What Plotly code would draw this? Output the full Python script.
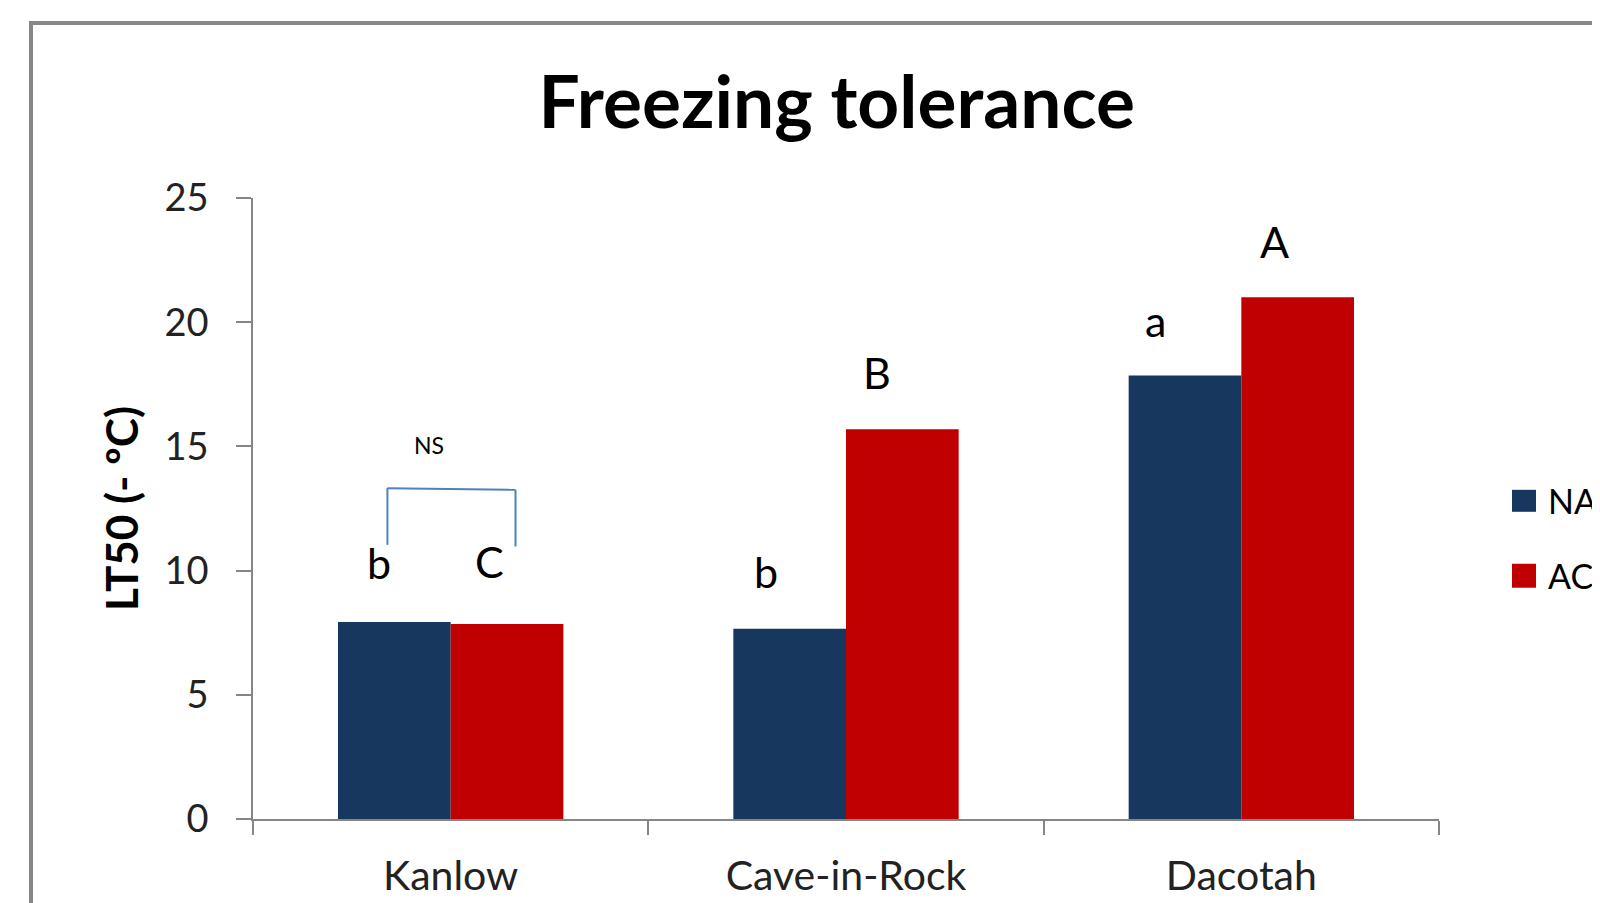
import plotly.graph_objects as go

# ---- data ----
categories = ["Kanlow", "Cave-in-Rock", "Dacotah"]
series_names = ["NA", "AC"]
na_values = [7.93, 7.66, 17.85]
ac_values = [7.85, 15.69, 21.0]
y_ticks = [0, 5, 10, 15, 20, 25]

# significance letters: (text, category index offset, y)
letter_texts = ["b", "C", "b", "B", "a", "A"]
letter_x = [-0.181, 0.098, 0.798, 1.078, 1.784, 2.085]
letter_y = [10.33, 10.37, 9.97, 17.98, 20.07, 23.25]

# NS bracket over Kanlow
bracket_x = [-0.160, -0.160, 0.164, 0.164]
bracket_y = [11.04, 13.32, 13.25, 10.97]
ns_x, ns_y = -0.054, 15.04

colors = {"NA": "#17375E", "AC": "#C00000"}
font_family = "Lato, 'Open Sans', sans-serif"

# page offset (browser body margin) compensation
OFF = 8
W, H = 1600, 903
# plot-area pixel geometry in screen coordinates
L, R = 253, 1439
T, B = 198, 819.4


def px(x):
    return (x - L) / (R - L)


def py(y):
    return (B - y) / (B - T)


fig = go.Figure()
fig.add_trace(go.Bar(x=categories, y=na_values, name="NA",
                     marker=dict(color=colors["NA"], line=dict(width=0)),
                     showlegend=False))
fig.add_trace(go.Bar(x=categories, y=ac_values, name="AC",
                     marker=dict(color=colors["AC"], line=dict(width=0)),
                     showlegend=False))

annotations = []
for t, x, y in zip(letter_texts, letter_x, letter_y):
    annotations.append(dict(text=t, x=x, y=y, xref="x", yref="y",
                            showarrow=False, xanchor="center", yanchor="middle",
                            font=dict(family=font_family, size=43, color="#000000")))
annotations.append(dict(text="NS", x=ns_x, y=ns_y, xref="x", yref="y",
                        showarrow=False, xanchor="center", yanchor="middle",
                        font=dict(family=font_family, size=23, color="#000000")))

shapes = []
for i in range(len(bracket_x) - 1):
    shapes.append(dict(type="line", xref="x", yref="y",
                       x0=bracket_x[i], y0=bracket_y[i],
                       x1=bracket_x[i + 1], y1=bracket_y[i + 1],
                       line=dict(color="#4F81BD", width=2)))

# manual legend (large squares like the original)
leg_rows = [(490, 512), (564, 588)]
for name, (y0, y1) in zip(series_names, leg_rows):
    shapes.append(dict(type="rect", xref="paper", yref="paper",
                       x0=px(1512), x1=px(1536), y0=py(y1), y1=py(y0),
                       fillcolor=colors[name], line=dict(width=0)))
    annotations.append(dict(text=name, xref="paper", yref="paper",
                            x=px(1546), y=py((y0 + y1) / 2),
                            xanchor="left", yanchor="middle", showarrow=False,
                            font=dict(family=font_family, size=34, color="#000000")))

# outer chart border
shapes.append(dict(type="rect", xref="paper", yref="paper",
                   x0=px(31), y0=py(960), x1=px(1700), y1=py(23),
                   line=dict(color="#888888", width=4), fillcolor="rgba(0,0,0,0)",
                   layer="below"))

fig.update_layout(
    width=W, height=H,
    margin=dict(l=L - OFF, r=W - (R - OFF), t=T - OFF, b=H - (B - OFF), pad=0),
    paper_bgcolor="white", plot_bgcolor="white",
    barmode="group", bargap=0.43, bargroupgap=0,
    title=dict(text="<b>Freezing tolerance</b>", xref="container", yref="container",
               x=(836.7 - OFF) / W, y=1 - (102 - OFF) / H,
               xanchor="center", yanchor="middle",
               font=dict(family=font_family, size=73, color="#000000")),
    font=dict(family=font_family, color="#222222"),
    annotations=annotations,
    shapes=shapes,
    showlegend=False,
)

fig.update_xaxes(
    type="category", range=[-0.5, 2.5],
    showline=True, linecolor="#868686", linewidth=1.5,
    ticks="outside", tickson="boundaries", ticklen=14, tickwidth=1.5,
    tickcolor="#868686", showgrid=False, zeroline=False,
    tickfont=dict(family=font_family, size=41, color="#222222"),
    ticklabelstandoff=20,
)
fig.update_yaxes(
    range=[0, 25], tickvals=y_ticks,
    showline=True, linecolor="#868686", linewidth=1.5,
    ticks="outside", ticklen=15, tickwidth=1.5, tickcolor="#868686",
    showgrid=False, zeroline=False,
    tickfont=dict(family=font_family, size=38, color="#222222"),
    ticklabelstandoff=20,
    title=dict(text="<b>LT50 (- ºC)</b>", standoff=12,
               font=dict(family=font_family, size=44, color="#000000")),
)

fig.write_html("out.html")
